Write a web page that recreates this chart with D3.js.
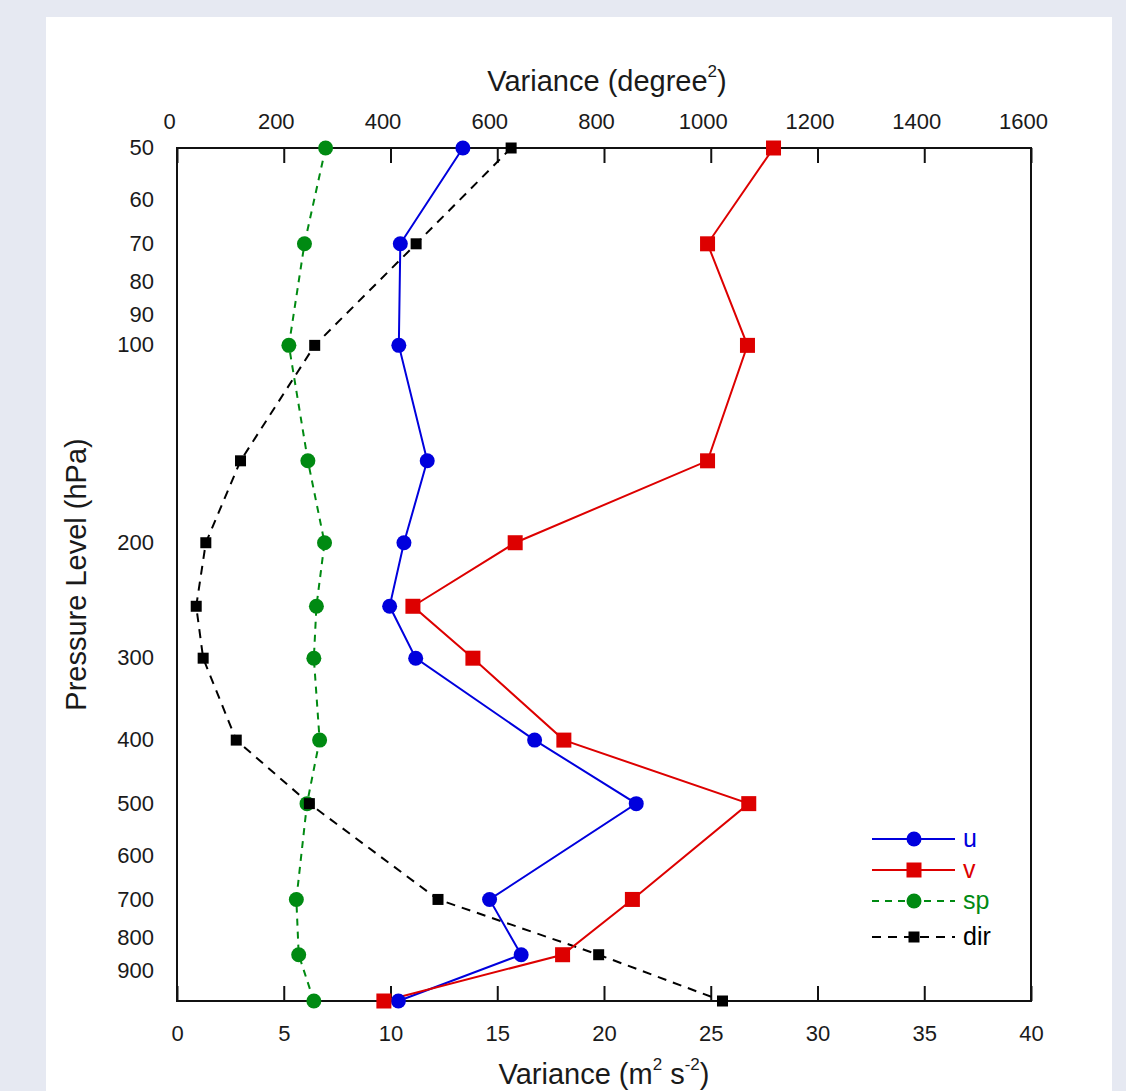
<!DOCTYPE html>
<html>
<head>
<meta charset="utf-8">
<script src="https://cdn.jsdelivr.net/npm/d3@7"></script>
<style>
html,body{margin:0;padding:0;background:#e6e9f2;}
svg{display:block;font-family:"Liberation Sans",Arial,sans-serif;}
</style>
</head>
<body>
<svg id="chart" width="1126" height="1091"></svg>
<script>
// ---- data ----
const levels = [50, 70, 100, 150, 200, 250, 300, 400, 500, 700, 850, 1000];
const uVar   = [13.39, 10.46, 10.39, 11.72, 10.63, 9.96, 11.18, 16.75, 21.51, 14.64, 16.12, 10.37];
const vVar   = [27.94, 24.85, 26.72, 24.85, 15.84, 11.05, 13.86, 18.12, 26.78, 21.33, 18.06, 9.69];
const spVar  = [6.96, 5.97, 5.24, 6.13, 6.91, 6.53, 6.41, 6.68, 6.09, 5.59, 5.70, 6.41];
const dirVar = [626, 448, 258, 119, 54, 36, 49, 111, 248, 489, 790, 1022];
const bottomTicks = [0, 5, 10, 15, 20, 25, 30, 35, 40];
const topTicks = [0, 200, 400, 600, 800, 1000, 1200, 1400, 1600];
const pressureTicks = [50, 60, 70, 80, 90, 100, 200, 300, 400, 500, 600, 700, 800, 900];
const seriesNames = ["u", "v", "sp", "dir"];

// ---- layout ----
const L = 177, R = 1031, T = 148, B = 1001;
const svg = d3.select("#chart");
const textColor = "#1a1a1a";

svg.append("rect").attr("x", 46).attr("y", 17).attr("width", 1066).attr("height", 1100).attr("fill", "#fff");

const x = d3.scaleLinear().domain([0, 40]).range([L, R]);
const xTop = d3.scaleLinear().domain([0, 1600]).range([L, R]);
const y = d3.scaleLog().domain([50, 1000]).range([T, B]);

// axes
const gB = svg.append("g").attr("transform", `translate(0,${B})`)
  .call(d3.axisBottom(x).tickValues(bottomTicks).tickSizeInner(-15).tickSizeOuter(0).tickPadding(24).tickFormat(d3.format("d")));
const gT = svg.append("g").attr("transform", `translate(0,${T})`)
  .call(d3.axisTop(xTop).tickValues(topTicks).tickSizeInner(-15).tickSizeOuter(0).tickPadding(19).tickFormat(d3.format("d")));
gT.selectAll(".tick text").attr("dx", -8);
const gL = svg.append("g").attr("transform", `translate(${L},0)`)
  .call(d3.axisLeft(y).tickValues(pressureTicks).tickSize(0).tickPadding(23).tickFormat(d3.format("d")));
gL.selectAll(".tick text").attr("dy", "0.3em");
[gB, gT, gL].forEach(g => {
  g.select(".domain").remove();
  g.selectAll(".tick line").attr("stroke", "#111").attr("stroke-width", 2);
  g.selectAll(".tick text").attr("font-size", 22).attr("fill", textColor)
    .attr("font-family", '"Liberation Sans",Arial,sans-serif');
});

// frame
svg.append("rect").attr("x", L).attr("y", T).attr("width", R - L).attr("height", B - T)
  .attr("fill", "none").attr("stroke", "#111").attr("stroke-width", 2);

// titles
const tTop = svg.append("text").attr("x", (L + R) / 2 + 3).attr("y", 91).attr("text-anchor", "middle")
  .attr("font-size", 29).attr("fill", textColor);
tTop.append("tspan").text("Variance (degree");
tTop.append("tspan").attr("font-size", 17).attr("dy", -14).text("2");
tTop.append("tspan").attr("dy", 14).text(")");

const tBot = svg.append("text").attr("x", (L + R) / 2).attr("y", 1084).attr("text-anchor", "middle")
  .attr("font-size", 29).attr("fill", textColor);
tBot.append("tspan").text("Variance (m");
tBot.append("tspan").attr("font-size", 17).attr("dy", -14).text("2");
tBot.append("tspan").attr("dy", 14).text(" s");
tBot.append("tspan").attr("font-size", 17).attr("dy", -14).text("-2");
tBot.append("tspan").attr("dy", 14).text(")");

svg.append("text").attr("transform", `translate(86,${(T + B) / 2}) rotate(-90)`)
  .attr("text-anchor", "middle").attr("font-size", 29).attr("fill", textColor)
  .text("Pressure Level (hPa)");

// series
const series = [
  {name: seriesNames[0], vals: uVar, sx: x, color: "#0000dd", dash: null, marker: "circle", size: 15},
  {name: seriesNames[1], vals: vVar, sx: x, color: "#dd0000", dash: null, marker: "square", size: 15},
  {name: seriesNames[2], vals: spVar, sx: x, color: "#008a12", dash: "7,6", marker: "circle", size: 15},
  {name: seriesNames[3], vals: dirVar, sx: xTop, color: "#000000", dash: "9,7", marker: "square", size: 11}
];

function drawMarker(g, s, cx, cy) {
  if (s.marker === "circle") {
    g.append("circle").attr("cx", cx).attr("cy", cy).attr("r", s.size / 2).attr("fill", s.color);
  } else {
    g.append("rect").attr("x", cx - s.size / 2).attr("y", cy - s.size / 2)
      .attr("width", s.size).attr("height", s.size).attr("fill", s.color);
  }
}

const line = d3.line();
const drawOrder = [2, 3, 0, 1];
drawOrder.forEach(i => {
  const s = series[i];
  const pts = levels.map((p, k) => [s.sx(s.vals[k]), y(p)]);
  svg.append("path").attr("d", line(pts)).attr("fill", "none").attr("stroke", s.color)
    .attr("stroke-width", 2).attr("stroke-dasharray", s.dash);
});
drawOrder.forEach(i => {
  const s = series[i];
  const g = svg.append("g");
  levels.forEach((p, k) => drawMarker(g, s, s.sx(s.vals[k]), y(p)));
});

// legend
const legY = [839, 870, 901, 937];
series.forEach((s, i) => {
  const g = svg.append("g");
  g.append("line").attr("x1", 872).attr("x2", 955).attr("y1", legY[i]).attr("y2", legY[i])
    .attr("stroke", s.color).attr("stroke-width", 2).attr("stroke-dasharray", s.dash);
  drawMarker(g, s, 914, legY[i]);
  g.append("text").attr("x", 963).attr("y", legY[i]).attr("dy", "0.3em")
    .attr("font-size", 25).attr("fill", s.color).text(s.name);
});
</script>
</body>
</html>
